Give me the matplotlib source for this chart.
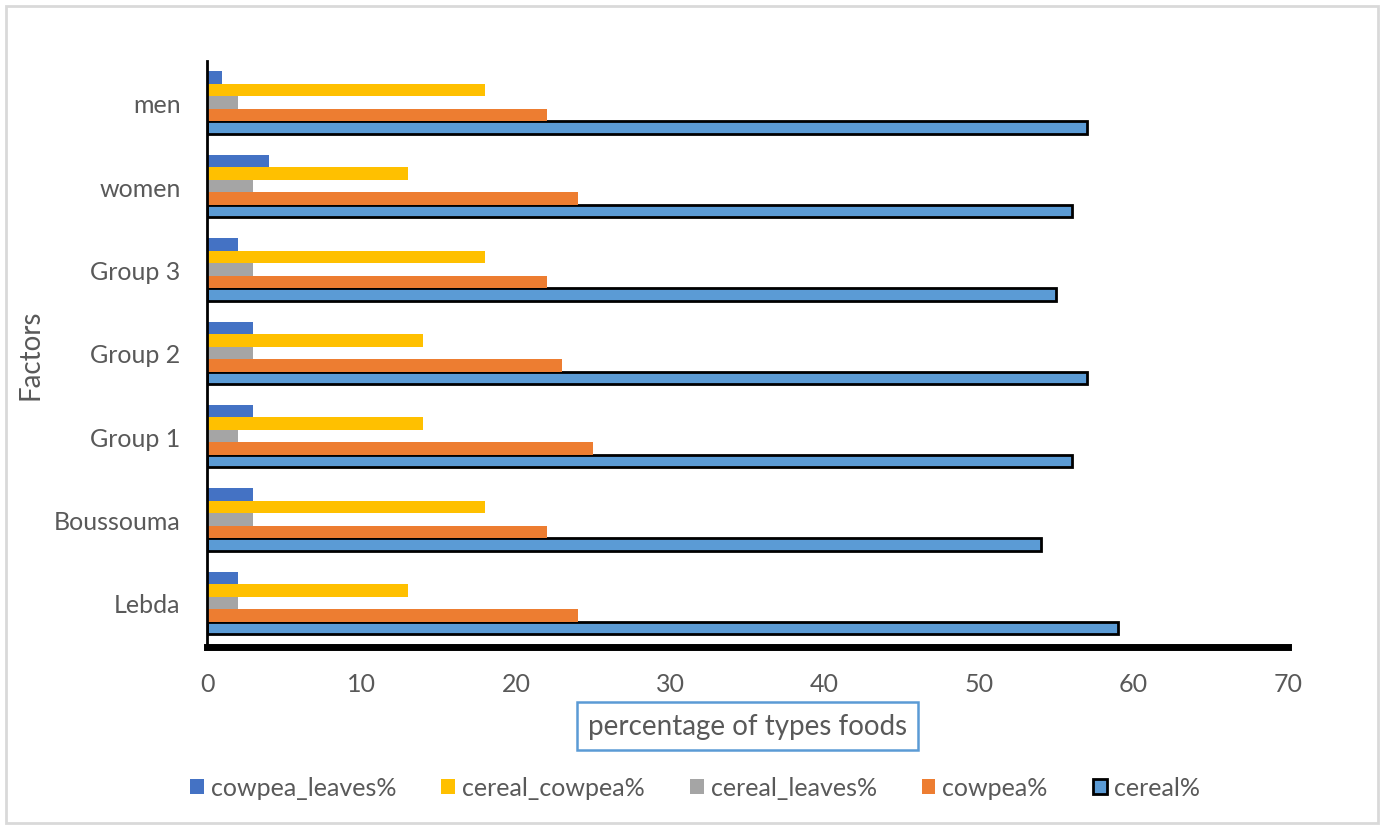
import matplotlib.pyplot as plt
import numpy as np
from matplotlib.patches import Rectangle

plt.rcParams['font.family'] = ['Lato', 'DejaVu Sans']

# catégories (de bas en haut)
factors = ['Lebda', 'Boussouma', 'Group 1', 'Group 2', 'Group 3', 'women', 'men']

cereal = [59, 54, 56, 57, 55, 56, 57]
cowpea = [24, 22, 25, 23, 22, 24, 22]
cereal_leaves = [2, 3, 2, 3, 3, 3, 2]
cereal_cowpea = [13, 18, 14, 14, 18, 13, 18]
cowpea_leaves = [2, 3, 3, 3, 2, 4, 1]

gris = '#595959'

fig = plt.figure(figsize=(13.84, 8.29), dpi=100)
ax = fig.add_axes([0.1496, 0.2183, 0.781, 0.7069])

y = np.arange(len(factors))
h = 0.15

ax.barh(y - 2 * h, cereal, h, color='#5B9BD5', edgecolor='black', linewidth=2, label='cereal%')
ax.barh(y - h, cowpea, h, color='#ED7D31', label='cowpea%')
ax.barh(y, cereal_leaves, h, color='#A5A5A5', label='cereal_leaves%')
ax.barh(y + h, cereal_cowpea, h, color='#FFC000', label='cereal_cowpea%')
ax.barh(y + 2 * h, cowpea_leaves, h, color='#4472C4', label='cowpea_leaves%')

ax.set_xlim(0, 70)
ax.set_ylim(-0.53, 6.5)
ax.set_xticks(range(0, 71, 10))
ax.set_yticks(y)
ax.set_yticklabels(factors)
ax.tick_params(axis='both', length=0, labelsize=18, labelcolor=gris)
ax.tick_params(axis='x', pad=18)
ax.tick_params(axis='y', pad=19)

for s in ['top', 'right']:
    ax.spines[s].set_visible(False)
ax.spines['left'].set_linewidth(2)
ax.spines['bottom'].set_linewidth(5)

ax.set_ylabel('Factors', fontsize=20, color=gris)
ax.yaxis.set_label_coords(-0.163, 0.5)
ax.yaxis.label.set_va('center')
ax.set_xlabel('percentage of types foods', fontsize=20, color=gris,
              bbox=dict(boxstyle='square,pad=0.4', facecolor='white', edgecolor='#5B9BD5', linewidth=1.8))
ax.xaxis.set_label_coords(0.5, -0.135)
ax.xaxis.label.set_va('center')

# légende dans l'ordre de l'original
hd, lb = ax.get_legend_handles_labels()
ordre = [4, 3, 2, 1, 0]
fig.legend([hd[i] for i in ordre], [lb[i] for i in ordre], loc='center', bbox_to_anchor=(0.502, 0.049),
           ncol=5, frameon=False, fontsize=18, labelcolor=gris, handlelength=0.55, handleheight=0.55,
           handletextpad=0.28, columnspacing=1.8)

# cadre gris autour de la figure
fig.patches.append(Rectangle((0.004, 0.006), 0.992, 0.986, transform=fig.transFigure,
                             fill=False, edgecolor='#D9D9D9', linewidth=2))

plt.savefig('out.png')
